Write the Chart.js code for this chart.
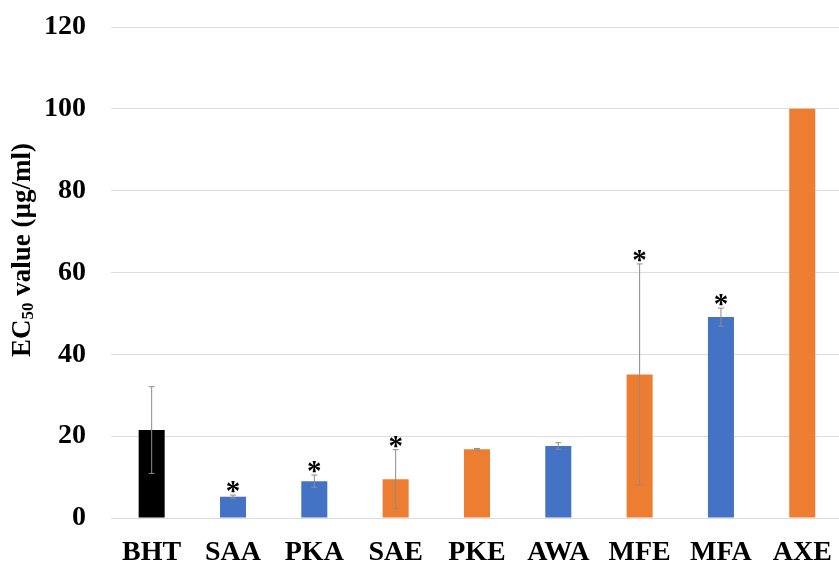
<!DOCTYPE html>
<html>
<head>
<meta charset="utf-8">
<script src="https://cdn.jsdelivr.net/npm/chart.js@4"></script>
<style>
  html, body { margin: 0; padding: 0; background: #fff; overflow: hidden; }
  #wrap { width: 850px; height: 565px; }
</style>
</head>
<body>
<div id="wrap"><canvas id="ecChart" width="850" height="565"></canvas></div>
<script>
// EC50 values
const samples = ['BHT', 'SAA', 'PKA', 'SAE', 'PKE', 'AWA', 'MFE', 'MFA', 'AXE'];
const ec50 = [21.5, 5.2, 9.0, 9.5, 16.8, 17.6, 35.1, 49.1, 100];
const ec50Err = [10.6, 0.4, 1.5, 7.2, 0.2, 0.8, 27.0, 2.2, 0];
const significant = [false, true, true, true, false, false, true, true, false];
const extractType = ['control', 'aqueous', 'aqueous', 'ethanol', 'ethanol', 'aqueous', 'ethanol', 'aqueous', 'ethanol'];
const yTicks = [0, 20, 40, 60, 80, 100, 120];

const typeColors = {
    control: '#000000',
    aqueous: '#4472C4',
    ethanol: '#ED7D31'
};
const serif = '"Liberation Serif", "Times New Roman", serif';

// error bars + significance stars
const errorBars = {
    id: 'errorBars',
    afterDatasetsDraw(chart) {
        const { ctx } = chart;
        const yScale = chart.scales.y;
        const meta = chart.getDatasetMeta(0);
        ctx.save();
        meta.data.forEach((bar, i) => {
            const x = bar.x;
            const err = ec50Err[i];
            const top = yScale.getPixelForValue(ec50[i] + err);
            if (err > 0) {
                const bottom = yScale.getPixelForValue(ec50[i] - err);
                ctx.strokeStyle = '#8c8c8c';
                ctx.lineWidth = 1;
                ctx.beginPath();
                ctx.moveTo(x, top); ctx.lineTo(x, bottom);
                ctx.moveTo(x - 3, top); ctx.lineTo(x + 3, top);
                ctx.moveTo(x - 3, bottom); ctx.lineTo(x + 3, bottom);
                ctx.stroke();
            }
            if (significant[i]) {
                ctx.fillStyle = '#000';
                ctx.font = 'bold 29px ' + serif;
                ctx.textAlign = 'center';
                ctx.textBaseline = 'alphabetic';
                const m = ctx.measureText('*');
                const cy = top - 8;
                ctx.fillText('*', x, cy + (m.actualBoundingBoxAscent - m.actualBoundingBoxDescent) / 2);
            }
        });
        ctx.restore();
    }
};

// y axis title with subscript
const yTitle = {
    id: 'yTitle',
    afterDraw(chart) {
        const { ctx } = chart;
        ctx.save();
        ctx.translate(23, 250);
        ctx.rotate(-Math.PI / 2);
        ctx.fillStyle = '#000';
        ctx.textBaseline = 'middle';
        ctx.textAlign = 'left';
        const big = 'bold 27px ' + serif;
        const small = 'bold 17px ' + serif;
        const parts = [
            { t: 'EC', f: big, dy: 0 },
            { t: '50', f: small, dy: 6 },
            { t: ' value (\u00b5g/ml)', f: big, dy: 0 }
        ];
        let total = 0;
        parts.forEach(p => { ctx.font = p.f; p.w = ctx.measureText(p.t).width; total += p.w; });
        let x = -total / 2;
        parts.forEach(p => {
            ctx.font = p.f;
            ctx.fillText(p.t, x, p.dy);
            x += p.w;
        });
        ctx.restore();
    }
};

new Chart(document.getElementById('ecChart'), {
    type: 'bar',
    data: {
        labels: samples,
        datasets: [{
            data: ec50,
            backgroundColor: extractType.map(t => typeColors[t]),
            borderWidth: 0,
            barPercentage: 0.32,
            categoryPercentage: 1.0
        }]
    },
    options: {
        responsive: false,
        animation: false,
        layout: { padding: { top: 27, right: 3, left: 0, bottom: 0 } },
        plugins: {
            legend: { display: false },
            tooltip: { enabled: false }
        },
        scales: {
            x: {
                grid: { display: false, drawTicks: false },
                border: { display: false },
                ticks: {
                    color: '#000',
                    padding: 18,
                    font: { family: serif, size: 28, weight: 'bold' }
                },
                afterFit(scale) { scale.height = 47; }
            },
            y: {
                min: 0,
                max: 120,
                afterBuildTicks(scale) { scale.ticks = yTicks.map(v => ({ value: v })); },
                grid: { color: '#dcdcdc', lineWidth: 1, drawTicks: false },
                border: { display: false },
                ticks: {
                    color: '#000',
                    padding: 25,
                    font: { family: serif, size: 28, weight: 'bold' }
                },
                afterFit(scale) {
                    scale.width = 111;
                    scale.paddingTop = 0;
                    scale.paddingBottom = 0;
                }
            }
        }
    },
    plugins: [errorBars, yTitle]
});
</script>
</body>
</html>
